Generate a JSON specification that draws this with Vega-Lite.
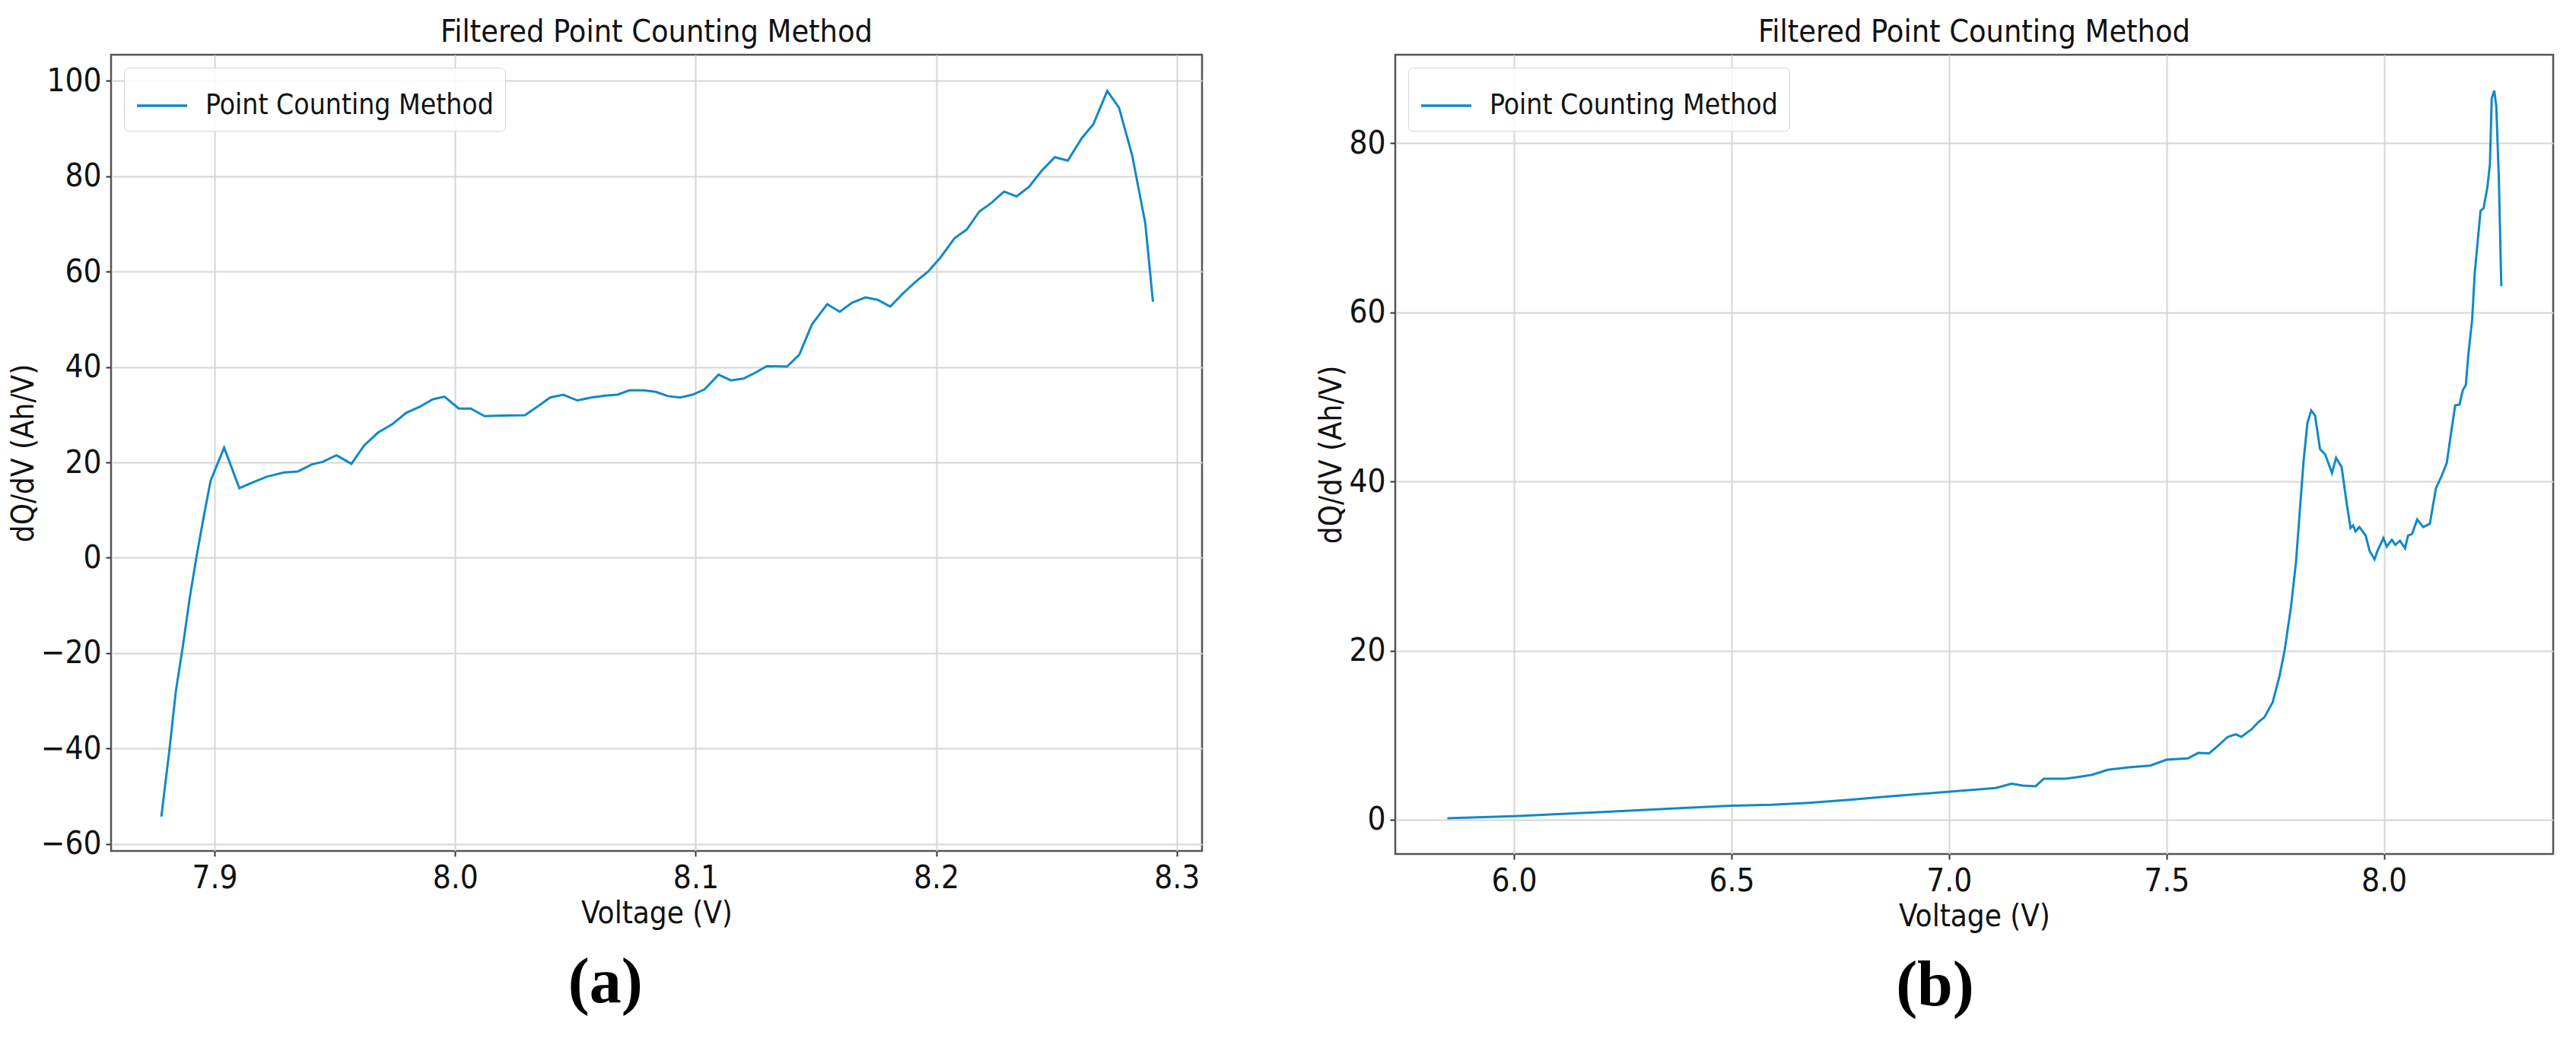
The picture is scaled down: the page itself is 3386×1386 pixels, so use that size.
{
  "$schema": "https://vega.github.io/schema/vega-lite/v6.json",
  "background": "white",
  "padding": {"left": 10, "top": 20, "right": 5, "bottom": 5},
  "config": {
    "font": "DejaVu Sans Condensed, DejaVu Sans",
    "view": {"stroke": "#555555", "strokeWidth": 2.5},
    "axis": {
      "domain": false, "grid": true, "gridColor": "#d6d6d6", "gridWidth": 2,
      "tickColor": "#333333", "tickWidth": 2, "tickSize": 7,
      "labelFont": "DejaVu Sans Condensed, DejaVu Sans", "labelFontSize": 42, "labelColor": "#111111",
      "titleFont": "DejaVu Sans Condensed, DejaVu Sans", "titleFontSize": 40, "titleFontWeight": "normal", "titleColor": "#111111"
    },
    "axisX": {"labelPadding": 8, "titlePadding": 6},
    "axisY": {"labelPadding": 6, "titlePadding": 2},
    "title": {"font": "DejaVu Sans Condensed, DejaVu Sans", "fontSize": 41, "fontWeight": "normal", "color": "#111111", "offset": 8},
    "legend": {
      "orient": "top-left", "offset": 17, "padding": 15, "strokeColor": "#d4d4d4",
      "fillColor": "rgba(255,255,255,0.85)", "cornerRadius": 6,
      "symbolType": "stroke", "symbolSize": 4356, "symbolStrokeWidth": 3.5,
      "labelFont": "DejaVu Sans Condensed, DejaVu Sans", "labelFontSize": 37, "labelOffset": 22, "labelColor": "#111111", "labelLimit": 0
    }
  },
  "spacing": 147,
  "resolve": {"scale": {"color": "independent"}, "legend": {"color": "independent"}},
  "hconcat": [
    {
      "title": {"text": "(a)", "orient": "bottom", "anchor": "middle", "font": "Liberation Serif", "fontWeight": "bold", "fontSize": 84, "offset": 30, "color": "#000000"},
      "resolve": {"scale": {"color": "independent"}, "legend": {"color": "independent"}},
      "vconcat": [
        {
          "title": "Filtered Point Counting Method",
          "width": 1434,
          "height": 1047,
          "data": {"values": [
            {"v": 7.8779, "d": -54.3}, {"v": 7.8813, "d": -40.1}, {"v": 7.8839, "d": -28.1}, {"v": 7.8868, "d": -18.7},
            {"v": 7.8897, "d": -8.4}, {"v": 7.8925, "d": 0.2}, {"v": 7.8957, "d": 9.1}, {"v": 7.8984, "d": 16.2},
            {"v": 7.9040, "d": 23.1}, {"v": 7.9103, "d": 14.6}, {"v": 7.9159, "d": 15.8}, {"v": 7.9217, "d": 17.0},
            {"v": 7.9289, "d": 17.9}, {"v": 7.9347, "d": 18.1}, {"v": 7.9405, "d": 19.6}, {"v": 7.9449, "d": 20.1},
            {"v": 7.9507, "d": 21.5}, {"v": 7.9569, "d": 19.7}, {"v": 7.9623, "d": 23.6}, {"v": 7.9681, "d": 26.3},
            {"v": 7.9739, "d": 28.0}, {"v": 7.9797, "d": 30.4}, {"v": 7.9855, "d": 31.7}, {"v": 7.9906, "d": 33.2},
            {"v": 7.9956, "d": 33.8}, {"v": 8.0015, "d": 31.3}, {"v": 8.0065, "d": 31.3}, {"v": 8.0123, "d": 29.7},
            {"v": 8.0189, "d": 29.8}, {"v": 8.0290, "d": 29.9}, {"v": 8.0348, "d": 31.9}, {"v": 8.0395, "d": 33.6},
            {"v": 8.0450, "d": 34.2}, {"v": 8.0508, "d": 33.0}, {"v": 8.0566, "d": 33.6}, {"v": 8.0624, "d": 34.0},
            {"v": 8.0675, "d": 34.2}, {"v": 8.0725, "d": 35.1}, {"v": 8.0783, "d": 35.1}, {"v": 8.0834, "d": 34.8},
            {"v": 8.0885, "d": 33.9}, {"v": 8.0936, "d": 33.6}, {"v": 8.0987, "d": 34.2}, {"v": 8.1037, "d": 35.3},
            {"v": 8.1095, "d": 38.4}, {"v": 8.1146, "d": 37.2}, {"v": 8.1200, "d": 37.6}, {"v": 8.1244, "d": 38.7},
            {"v": 8.1296, "d": 40.2}, {"v": 8.1380, "d": 40.1}, {"v": 8.1431, "d": 42.6}, {"v": 8.1483, "d": 48.9},
            {"v": 8.1547, "d": 53.2}, {"v": 8.1599, "d": 51.6}, {"v": 8.1650, "d": 53.5}, {"v": 8.1706, "d": 54.6},
            {"v": 8.1756, "d": 54.1}, {"v": 8.1809, "d": 52.7}, {"v": 8.1863, "d": 55.5}, {"v": 8.1915, "d": 57.9},
            {"v": 8.1966, "d": 60.0}, {"v": 8.2018, "d": 63.0}, {"v": 8.2076, "d": 67.0}, {"v": 8.2128, "d": 68.9},
            {"v": 8.2179, "d": 72.6}, {"v": 8.2231, "d": 74.5}, {"v": 8.2282, "d": 76.8}, {"v": 8.2334, "d": 75.8},
            {"v": 8.2386, "d": 77.8}, {"v": 8.2437, "d": 81.1}, {"v": 8.2493, "d": 84.0}, {"v": 8.2547, "d": 83.3},
            {"v": 8.2605, "d": 88.0}, {"v": 8.2653, "d": 90.9}, {"v": 8.2711, "d": 97.9}, {"v": 8.2760, "d": 94.4},
            {"v": 8.2815, "d": 84.3}, {"v": 8.2869, "d": 70.2}, {"v": 8.2901, "d": 53.7}
          ]},
          "mark": {"type": "line", "strokeWidth": 3, "clip": true},
          "encoding": {
            "x": {"field": "v", "type": "quantitative", "scale": {"domain": [7.857, 8.3105], "nice": false, "zero": false},
                  "axis": {"title": "Voltage (V)", "values": [7.9, 8.0, 8.1, 8.2, 8.3], "format": ".1f"}},
            "y": {"field": "d", "type": "quantitative", "scale": {"domain": [-61.5, 105.5], "nice": false, "zero": false},
                  "axis": {"title": "dQ/dV (Ah/V)", "values": [-60, -40, -20, 0, 20, 40, 60, 80, 100]}},
            "color": {"datum": "Point Counting Method", "type": "nominal", "scale": {"range": ["#1089c8"]}, "legend": {"title": null}}
          }
        }
      ]
    },
    {
      "title": {"text": "(b)", "orient": "bottom", "anchor": "middle", "font": "Liberation Serif", "fontWeight": "bold", "fontSize": 84, "offset": 30, "color": "#000000"},
      "resolve": {"scale": {"color": "independent"}, "legend": {"color": "independent"}},
      "vconcat": [
        {
          "title": "Filtered Point Counting Method",
          "width": 1522,
          "height": 1051,
          "data": {"values": [
            {"v": 5.8467, "d": 0.18}, {"v": 6.0, "d": 0.42}, {"v": 6.1876, "d": 0.87}, {"v": 6.3716, "d": 1.35},
            {"v": 6.498, "d": 1.65}, {"v": 6.5923, "d": 1.77}, {"v": 6.678, "d": 2.0}, {"v": 6.776, "d": 2.37},
            {"v": 6.862, "d": 2.76}, {"v": 6.923, "d": 3.0}, {"v": 6.997, "d": 3.3}, {"v": 7.046, "d": 3.5},
            {"v": 7.107, "d": 3.75}, {"v": 7.144, "d": 4.26}, {"v": 7.169, "d": 4.05}, {"v": 7.199, "d": 3.96},
            {"v": 7.218, "d": 4.86}, {"v": 7.267, "d": 4.86}, {"v": 7.291, "d": 5.0}, {"v": 7.328, "d": 5.3},
            {"v": 7.365, "d": 5.9}, {"v": 7.414, "d": 6.2}, {"v": 7.463, "d": 6.4}, {"v": 7.5, "d": 7.1},
            {"v": 7.549, "d": 7.25}, {"v": 7.573, "d": 7.9}, {"v": 7.598, "d": 7.85}, {"v": 7.622, "d": 8.9},
            {"v": 7.641, "d": 9.8}, {"v": 7.659, "d": 10.1}, {"v": 7.672, "d": 9.8}, {"v": 7.6958, "d": 10.7},
            {"v": 7.7103, "d": 11.5}, {"v": 7.7249, "d": 12.1}, {"v": 7.7442, "d": 13.9}, {"v": 7.7599, "d": 17.0},
            {"v": 7.7716, "d": 20.0}, {"v": 7.7861, "d": 25.1}, {"v": 7.7978, "d": 30.5}, {"v": 7.8065, "d": 36.5},
            {"v": 7.8153, "d": 42.5}, {"v": 7.824, "d": 46.9}, {"v": 7.8328, "d": 48.4}, {"v": 7.8415, "d": 47.8},
            {"v": 7.8531, "d": 43.8}, {"v": 7.8648, "d": 43.2}, {"v": 7.8805, "d": 41.0}, {"v": 7.8899, "d": 42.8},
            {"v": 7.9027, "d": 41.7}, {"v": 7.9143, "d": 37.4}, {"v": 7.9231, "d": 34.5}, {"v": 7.9289, "d": 34.8},
            {"v": 7.9347, "d": 34.1}, {"v": 7.9435, "d": 34.6}, {"v": 7.958, "d": 33.6}, {"v": 7.9668, "d": 31.8},
            {"v": 7.9784, "d": 30.8}, {"v": 7.9843, "d": 31.7}, {"v": 7.9988, "d": 33.3}, {"v": 8.0064, "d": 32.3},
            {"v": 8.0181, "d": 33.1}, {"v": 8.0262, "d": 32.5}, {"v": 8.0367, "d": 33.0}, {"v": 8.0484, "d": 32.1},
            {"v": 8.0554, "d": 33.6}, {"v": 8.0647, "d": 33.8}, {"v": 8.0763, "d": 35.5}, {"v": 8.0903, "d": 34.6},
            {"v": 8.1055, "d": 35.0}, {"v": 8.1195, "d": 39.2}, {"v": 8.1329, "d": 40.7}, {"v": 8.1445, "d": 42.2},
            {"v": 8.1533, "d": 45.4}, {"v": 8.1638, "d": 49.0}, {"v": 8.1737, "d": 49.1}, {"v": 8.1813, "d": 50.8},
            {"v": 8.1882, "d": 51.4}, {"v": 8.194, "d": 55.0}, {"v": 8.2028, "d": 59.2}, {"v": 8.2086, "d": 64.6},
            {"v": 8.2162, "d": 68.8}, {"v": 8.222, "d": 72.0}, {"v": 8.229, "d": 72.3}, {"v": 8.2378, "d": 74.8},
            {"v": 8.2436, "d": 77.5}, {"v": 8.2477, "d": 85.3}, {"v": 8.2535, "d": 86.2}, {"v": 8.2582, "d": 84.4},
            {"v": 8.264, "d": 76.0}, {"v": 8.2698, "d": 63.1}
          ]},
          "mark": {"type": "line", "strokeWidth": 3, "clip": true},
          "encoding": {
            "x": {"field": "v", "type": "quantitative", "scale": {"domain": [5.727, 8.389], "nice": false, "zero": false},
                  "axis": {"title": "Voltage (V)", "values": [6.0, 6.5, 7.0, 7.5, 8.0], "format": ".1f"}},
            "y": {"field": "d", "type": "quantitative", "scale": {"domain": [-4.05, 90.45], "nice": false, "zero": false},
                  "axis": {"title": "dQ/dV (Ah/V)", "values": [0, 20, 40, 60, 80]}},
            "color": {"datum": "Point Counting Method", "type": "nominal", "scale": {"range": ["#1089c8"]}, "legend": {"title": null}}
          }
        }
      ]
    }
  ]
}
